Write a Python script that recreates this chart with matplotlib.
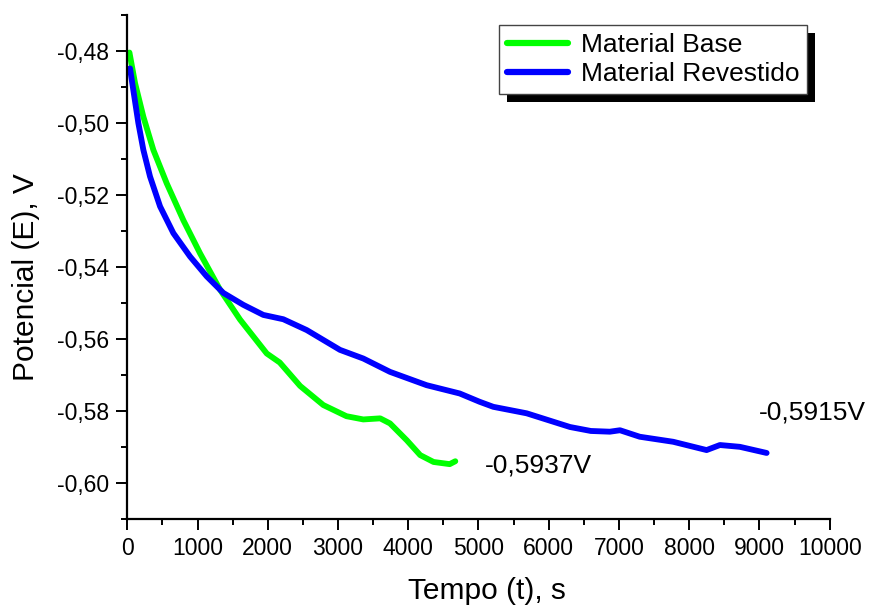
import numpy as np
import matplotlib
matplotlib.use("Agg")
import matplotlib.pyplot as plt
from matplotlib.ticker import MultipleLocator, FuncFormatter
from matplotlib.patches import Rectangle

plt.rcParams['font.family'] = ['Liberation Sans', 'DejaVu Sans']

# Material Base (green)
base_t = [30, 110, 228, 370, 561, 797, 1035, 1320, 1605, 1985, 2170, 2460,
          2790, 3120, 3360, 3600, 3740, 3980, 4170, 4360, 4590, 4670]
base_e = [-0.4805, -0.4890, -0.4983, -0.5075, -0.5168, -0.5270, -0.5362,
          -0.5463, -0.5546, -0.5640, -0.5665, -0.5730, -0.5783, -0.5814,
          -0.5823, -0.5820, -0.5834, -0.5881, -0.5922, -0.5941, -0.5947,
          -0.5939]

# Material Revestido (blue)
rev_t = [38, 85, 157, 228, 323, 466, 655, 893, 1130, 1367, 1651, 1936, 2221,
         2554, 3028, 3360, 3740, 4262, 4733, 5016, 5211, 5686, 6303, 6600,
         6870, 7015, 7296, 7773, 8248, 8438, 8722, 9103]
rev_e = [-0.4849, -0.4909, -0.5001, -0.5075, -0.5149, -0.5232, -0.5306,
         -0.5371, -0.5426, -0.5472, -0.5505, -0.5533, -0.5545, -0.5575,
         -0.5630, -0.5654, -0.5691, -0.5728, -0.5751, -0.5774, -0.5788,
         -0.5806, -0.5844, -0.5855, -0.5857, -0.5853, -0.5871, -0.5885,
         -0.5908, -0.5894, -0.5899, -0.5916]

labels = ["Material Base", "Material Revestido"]
end_notes = ["-0,5937V", "-0,5915V"]
note_pos = [(5093, -0.5952), (8990, -0.5803)]

fig = plt.figure(figsize=(8.71, 6.05), dpi=100)
ax = fig.add_axes([0.1462, 0.1417, 0.8063, 0.834])

ax.plot(base_t, base_e, color='#00ff00', lw=4.2, label=labels[0],
        solid_capstyle='round', solid_joinstyle='round')
ax.plot(rev_t, rev_e, color='#0000ff', lw=4.2, label=labels[1],
        solid_capstyle='round', solid_joinstyle='round')

for txt, (tx, ty) in zip(end_notes, note_pos):
    ax.text(tx, ty, txt, fontsize=19, ha='left', va='center')

ax.set_xlim(0, 10000)
ax.set_ylim(-0.61, -0.47)
ax.xaxis.set_major_locator(MultipleLocator(1000))
ax.xaxis.set_minor_locator(MultipleLocator(500))
ax.yaxis.set_major_locator(MultipleLocator(0.02))
ax.yaxis.set_minor_locator(MultipleLocator(0.01))
ax.yaxis.set_major_formatter(FuncFormatter(lambda v, p: ("%.2f" % v).replace('.', ',')))

for s in ['top', 'right']:
    ax.spines[s].set_visible(False)
for s in ['left', 'bottom']:
    ax.spines[s].set_linewidth(1.6)
ax.tick_params(which='major', direction='out', length=8, width=1.4,
               labelsize=16.5, pad=5)
ax.tick_params(which='minor', direction='out', length=4, width=1.4)

ax.set_xlabel("Tempo (t), s", fontsize=21.5)
ax.set_ylabel("Potencial (E), V", fontsize=21.5)
ax.xaxis.set_label_coords(0.512, -0.115)
ax.yaxis.set_label_coords(-0.125, 0.48)

leg = ax.legend(loc='upper left', bbox_to_anchor=(499/871, 1 - 25/605),
                bbox_transform=fig.transFigure, borderaxespad=0,
                fontsize=19, fancybox=False, frameon=True,
                edgecolor='#444444', framealpha=1, handlelength=2.3,
                handletextpad=0.5, labelspacing=0.2, borderpad=0.3)
leg.get_frame().set_linewidth(1.0)
for ln in leg.get_lines():
    ln.set_linewidth(4.5)

# black drop shadow behind the legend
fig.canvas.draw()
bb = leg.get_window_extent()
W, H = fig.bbox.width, fig.bbox.height
sh = Rectangle(((bb.x0 + 8) / W, (bb.y0 - 8) / H), bb.width / W, bb.height / H,
               transform=fig.transFigure, facecolor='black', edgecolor='none',
               zorder=leg.get_zorder() - 0.5, clip_on=False)
ax.add_patch(sh)

fig.savefig("out.png", dpi=100)
